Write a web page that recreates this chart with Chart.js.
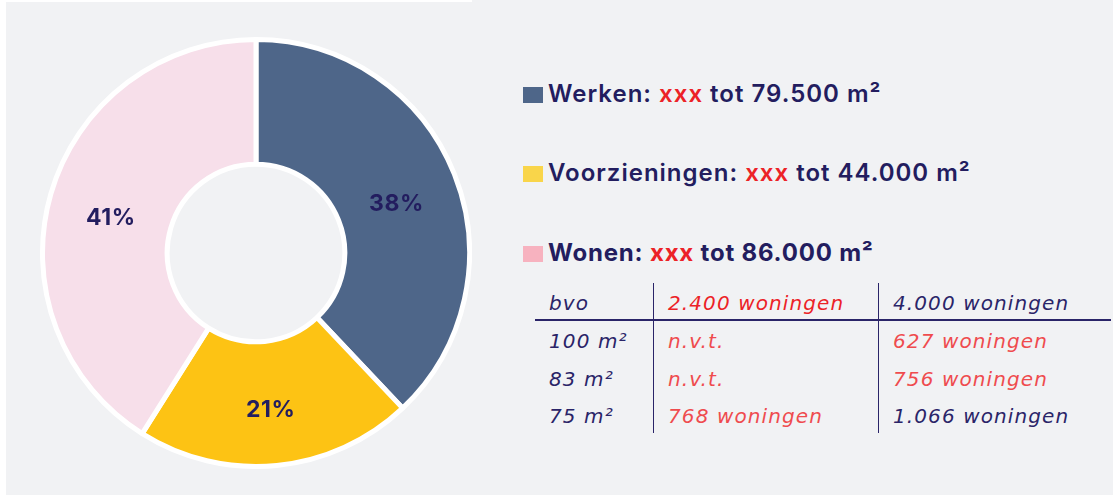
<!DOCTYPE html>
<html lang="nl">
<head>
<meta charset="utf-8">
<script src="https://cdn.jsdelivr.net/npm/chart.js@4/dist/chart.umd.min.js"></script>
<style>
  html, body { margin: 0; padding: 0; }
  body { width: 1113px; height: 495px; background: #ffffff; position: relative; overflow: hidden;
         font-family: Inter, "Noto Sans", sans-serif; color: #231d5f; }
  #panel { position: absolute; left: 6px; top: 0; right: 0; bottom: 0; background: #f1f2f4; }
  #topStrip { position: absolute; left: 0; top: 0; width: 472px; height: 2px; background: #ffffff; }
  #donutBox { position: absolute; left: 40px; top: 37px; width: 432px; height: 432px; }
  .legendRow { position: absolute; left: 523px; height: 30px; line-height: 30px; font-size: 24px;
               font-weight: 600; white-space: nowrap; letter-spacing: 1px; }
  .legendRow .box { display: inline-block; width: 20px; height: 16px; margin-right: 5px; vertical-align: -1px; }
  .legendRow.bold { font-weight: 700; letter-spacing: 0.8px; }
  .red { color: #ec2227; }
  .cell { position: absolute; font-family: "DejaVu Sans", sans-serif; font-size: 20px; font-style: italic;
          font-weight: 400; white-space: nowrap; height: 26px; line-height: 26px; color: #2a2468;
          letter-spacing: 1.1px; }
  .rule { position: absolute; background: #2a2468; }
</style>
</head>
<body>
<div id="panel"></div>
<div id="topStrip"></div>
<div id="donutBox"><canvas id="donut"></canvas></div>
<div id="legend"></div>
<div id="table"></div>
<script>
// oppervlaktes per functie (m2, bovengrens)
const categories = ['Werken', 'Voorzieningen', 'Wonen'];
const areaMax = [79500, 44000, 86000];
const areaMin = ['xxx', 'xxx', 'xxx'];
const sliceColors = ['#4e6689', '#fdc314', '#f7dfea'];
const legendColors = ['#4e6689', '#f9d54a', '#f7b2bf'];
const legendBold = [false, false, true];

// woningen-tabel
const tableHeader = ['bvo', '2.400 woningen', '4.000 woningen'];
const tableRows = [
  ['100 m²', 'n.v.t.', '627 woningen'],
  ['83 m²', 'n.v.t.', '756 woningen'],
  ['75 m²', '768 woningen', '1.066 woningen']
];
const tableRed = [
  [false, true, false],
  [false, true, true],
  [false, true, true],
  [false, true, false]
];

function nl(n) {
  return String(n).replace(/\B(?=(\d{3})+(?!\d))/g, '.');
}

// legenda
const legendTop = [79, 158, 238];
const legendEl = document.getElementById('legend');
categories.forEach((cat, i) => {
  const row = document.createElement('div');
  row.className = 'legendRow' + (legendBold[i] ? ' bold' : '');
  row.style.top = legendTop[i] + 'px';
  row.innerHTML = '<span class="box" style="background:' + legendColors[i] + '"></span>' +
    cat + ': <span class="red">' + areaMin[i] + '</span> tot ' + nl(areaMax[i]) + ' m²';
  legendEl.appendChild(row);
});

// tabel
const colX = [549, 668, 893];
const rowY = [290, 328, 366, 403];
const tableEl = document.getElementById('table');
[tableHeader, ...tableRows].forEach((row, r) => {
  row.forEach((txt, c) => {
    const d = document.createElement('div');
    d.className = 'cell' + (tableRed[r][c] ? ' red' : '');
    if (tableRed[r][c]) d.style.color = (r === 0) ? '#ec2227' : '#ef4b4e';
    d.style.left = colX[c] + 'px';
    d.style.top = rowY[r] + 'px';
    d.textContent = txt;
    tableEl.appendChild(d);
  });
});
function rule(x, y, w, h) {
  const d = document.createElement('div');
  d.className = 'rule';
  d.style.left = x + 'px'; d.style.top = y + 'px';
  d.style.width = w + 'px'; d.style.height = h + 'px';
  tableEl.appendChild(d);
}
rule(535, 319, 576, 1.5);
rule(653, 283, 1.2, 150);
rule(878, 283, 1.2, 150);

// percentages in de ringsegmenten
const pctLabels = {
  id: 'pctLabels',
  afterDatasetsDraw(chart) {
    const ctx = chart.ctx;
    const data = chart.data.datasets[0].data;
    const total = data.reduce((a, b) => a + b, 0);
    ctx.save();
    ctx.font = '700 23px Inter';
    ctx.fillStyle = '#231d5f';
    ctx.textAlign = 'center';
    ctx.textBaseline = 'middle';
    if ('letterSpacing' in ctx) ctx.letterSpacing = '0.5px';
    chart.getDatasetMeta(0).data.forEach((arc, i) => {
      const p = arc.tooltipPosition();
      ctx.fillText(Math.round(data[i] / total * 100) + '%', p.x, p.y + 7);
    });
    ctx.restore();
  }
};

new Chart(document.getElementById('donut'), {
  type: 'doughnut',
  data: {
    labels: categories,
    datasets: [{
      data: areaMax,
      backgroundColor: sliceColors,
      borderColor: '#ffffff',
      borderWidth: 5,
      hoverOffset: 0
    }]
  },
  options: {
    responsive: true,
    maintainAspectRatio: false,
    animation: false,
    cutout: '41.6%',
    layout: { padding: 0 },
    plugins: {
      legend: { display: false },
      tooltip: { enabled: false }
    }
  },
  plugins: [pctLabels]
});
</script>
</body>
</html>
